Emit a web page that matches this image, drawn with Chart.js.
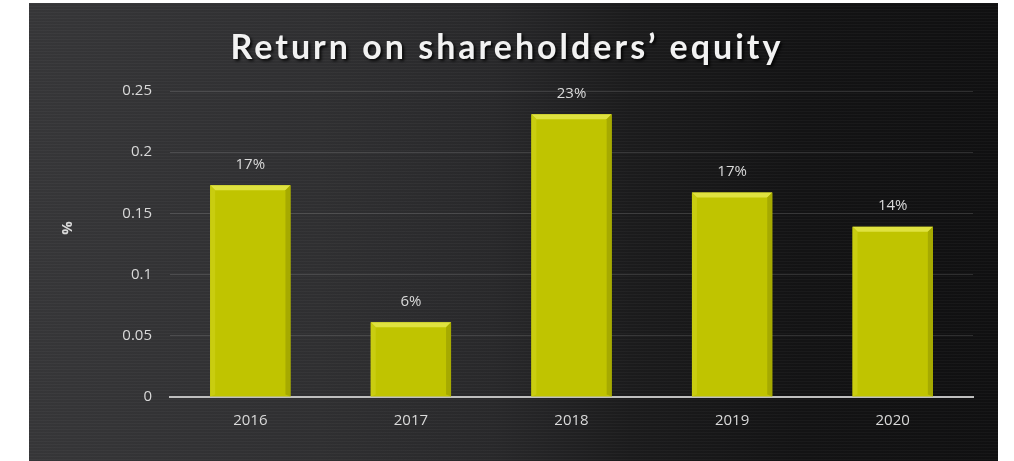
<!DOCTYPE html>
<html>
<head>
<meta charset="utf-8">
<title>Return on shareholders’ equity</title>
<script src="https://cdn.jsdelivr.net/npm/chart.js@4/dist/chart.umd.min.js"></script>
<style>
  html, body { margin: 0; padding: 0; background: #fff; }
  #wrap { position: relative; width: 1014px; height: 461px; overflow: hidden; }
  /* chalkboard panel */
  #board {
    position: absolute; left: 29px; top: 3px; width: 969px; height: 458px;
    background:
      repeating-linear-gradient(180deg, rgba(255,255,255,0.03) 0 1px, rgba(0,0,0,0) 1px 3px),
      linear-gradient(90deg, #363638 0%, #2f2f31 30%, #28282a 48%, #1b1b1c 62%, #131314 80%, #101011 100%);
  }
  #title {
    position: absolute; left: 0; width: 1014px; top: 25px;
    text-align: center; color: #f2f2f2;
    font: bold 34px "Lato", sans-serif; letter-spacing: 3px;
    text-shadow: 2px 2px 3px rgba(0,0,0,0.85);
  }
  #chart { position: absolute; left: 0; top: 0; }
</style>
</head>
<body>
<div id="wrap">
  <div id="board"></div>
  <canvas id="chart" width="1014" height="461"></canvas>
  <div id="title">Return on shareholders’ equity</div>
</div>
<script>
// Data
const years = ["2016", "2017", "2018", "2019", "2020"];
const roe = [0.173, 0.061, 0.231, 0.167, 0.139];
const yTicks = [0, 0.05, 0.1, 0.15, 0.2, 0.25];

const TEXT = "#d9d9d9";
const FONT = { family: "'Open Sans', sans-serif", size: 15 };

// Bevelled edges on each bar, like the 3D office style
const bevelPlugin = {
  id: "bevel",
  afterDatasetsDraw(chart) {
    const ctx = chart.ctx;
    const b = 5;
    chart.getDatasetMeta(0).data.forEach((bar) => {
      const { x, y, base, width } = bar.getProps(["x", "y", "base", "width"], true);
      const l = x - width / 2, r = x + width / 2;
      ctx.save();
      // top
      ctx.fillStyle = "#dfe240";
      ctx.beginPath();
      ctx.moveTo(l, y); ctx.lineTo(r, y); ctx.lineTo(r - b, y + b); ctx.lineTo(l + b, y + b);
      ctx.closePath(); ctx.fill();
      // left
      ctx.fillStyle = "#c9cd10";
      ctx.beginPath();
      ctx.moveTo(l, y); ctx.lineTo(l + b, y + b); ctx.lineTo(l + b, base - 2); ctx.lineTo(l, base);
      ctx.closePath(); ctx.fill();
      // right
      ctx.fillStyle = "#a6aa00";
      ctx.beginPath();
      ctx.moveTo(r, y); ctx.lineTo(r - b, y + b); ctx.lineTo(r - b, base - 2); ctx.lineTo(r, base);
      ctx.closePath(); ctx.fill();
      ctx.restore();
    });
  },
};

// Percent labels above the bars, and the rotated "%" axis name
const valueLabels = {
  id: "valueLabels",
  afterDatasetsDraw(chart) {
    const ctx = chart.ctx;
    const ds = chart.data.datasets[0];
    ctx.save();
    ctx.fillStyle = TEXT;
    ctx.font = "15px 'Open Sans', sans-serif";
    ctx.textAlign = "center";
    ctx.textBaseline = "middle";
    chart.getDatasetMeta(0).data.forEach((bar, i) => {
      ctx.fillText(Math.round(ds.data[i] * 100) + "%", bar.x, bar.y - 21);
    });
    ctx.translate(68, 228);
    ctx.rotate(-Math.PI / 2);
    ctx.font = "bold 15px 'Open Sans', sans-serif";
    ctx.fillText("%", 0, 0);
    ctx.restore();
  },
};

new Chart(document.getElementById("chart"), {
  type: "bar",
  data: {
    labels: years,
    datasets: [{
      data: roe,
      backgroundColor: "#c0c400",
      borderWidth: 0,
      barPercentage: 0.5,
      categoryPercentage: 1,
    }],
  },
  options: {
    responsive: false,
    devicePixelRatio: 1,
    animation: false,
    layout: { padding: { left: 0, right: 41, top: 91, bottom: 24 } },
    plugins: { legend: { display: false }, tooltip: { enabled: false }, title: { display: false } },
    scales: {
      x: {
        grid: { display: false, drawTicks: false },
        border: { display: true, color: "#bfbfbf", width: 2 },
        ticks: { color: TEXT, font: FONT, padding: 15 },
        afterFit: (s) => { s.height = 40; },
      },
      y: {
        min: 0,
        max: 0.25,
        afterBuildTicks: (s) => { s.ticks = yTicks.map((v) => ({ value: v })); },
        grid: {
          drawTicks: false,
          color: (c) => (c.tick && c.tick.value === 0 ? "rgba(0,0,0,0)" : "rgba(255,255,255,0.13)"),
        },
        border: { display: false },
        ticks: { color: TEXT, font: FONT, padding: 18, callback: (v) => String(v) },
        afterFit: (s) => { s.width = 170; },
      },
    },
  },
  plugins: [bevelPlugin, valueLabels],
});
</script>
</body>
</html>
